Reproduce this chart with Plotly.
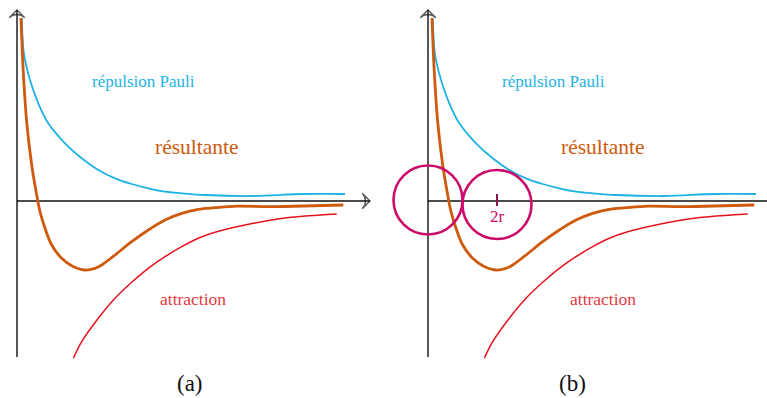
import plotly.graph_objects as go

# distance (unités arbitraires, origine = axe vertical) / énergie
pauli_x = [0.047, 0.063, 0.08, 0.13, 0.213, 0.313, 0.48, 0.647, 0.813, 0.98, 1.147, 1.313,
           1.48, 1.647, 1.88, 2.36, 2.86, 3.28]
pauli_y = [1.827, 1.527, 1.41, 1.21, 0.977, 0.777, 0.577, 0.427, 0.31, 0.227, 0.17, 0.127,
           0.093, 0.077, 0.06, 0.05, 0.07, 0.07]

res_x = [0.04, 0.063, 0.097, 0.147, 0.197, 0.23, 0.28, 0.347, 0.447, 0.547, 0.68, 0.78,
         0.847, 0.98, 1.147, 1.313, 1.48, 1.647, 1.813, 1.98, 2.2, 2.53, 2.863, 3.263]
res_y = [1.83, 1.29, 0.79, 0.36, 0.06, -0.107, -0.273, -0.44, -0.573, -0.647, -0.69, -0.673,
         -0.64, -0.54, -0.407, -0.29, -0.19, -0.123, -0.083, -0.067, -0.052, -0.057, -0.05, -0.04]

attr_x = [0.563, 0.647, 0.813, 0.98, 1.147, 1.313, 1.48, 1.647, 1.813, 1.98, 2.363, 2.697,
          3.03, 3.197]
attr_y = [-1.573, -1.407, -1.173, -0.973, -0.813, -0.673, -0.557, -0.457, -0.373, -0.313,
          -0.223, -0.167, -0.14, -0.13]

# atomes (panneau b) : centres et rayon, graduation 2r
atom_cx = [0.0, 0.69]
atom_cy = [0.01, -0.035]
atom_r = 0.345
tick_2r = 0.69

CYAN = "#1cb3e3"
ORANGE = "#cf5a0c"
RED = "#e8121e"
MAGENTA = "#cc0a6a"
INK = "#111111"
SERIF = "Liberation Serif, DejaVu Serif, serif"

fig = go.Figure()

for i, (xa, ya) in enumerate([("x", "y"), ("x2", "y2")]):
    # axes avec flèches
    xend = 3.53 if i == 0 else 3.45
    fig.add_trace(go.Scatter(
        x=[0, xend], y=[0, 0], xaxis=xa, yaxis=ya, mode="lines+markers",
        line=dict(color=INK, width=1.4),
        marker=dict(symbol="arrow-wide-open", size=[0, 11 if i == 0 else 0],
                    angleref="previous", color=INK, line=dict(color=INK, width=1.4)),
        hoverinfo="skip"))
    fig.add_trace(go.Scatter(
        x=[0, 0], y=[-1.56, 1.91], xaxis=xa, yaxis=ya, mode="lines+markers",
        line=dict(color=INK, width=1.4),
        marker=dict(symbol="arrow-wide-open", size=[0, 11], angleref="previous",
                    color=INK, line=dict(color=INK, width=1.4)),
        hoverinfo="skip"))
    fig.add_trace(go.Scatter(x=pauli_x, y=pauli_y, xaxis=xa, yaxis=ya, mode="lines",
                             line=dict(color=CYAN, width=1.8, shape="spline", smoothing=1),
                             name="répulsion Pauli"))
    fig.add_trace(go.Scatter(x=attr_x, y=attr_y, xaxis=xa, yaxis=ya, mode="lines",
                             line=dict(color=RED, width=1.5, shape="spline", smoothing=1),
                             name="attraction"))
    fig.add_trace(go.Scatter(x=res_x, y=res_y, xaxis=xa, yaxis=ya, mode="lines",
                             line=dict(color=ORANGE, width=2.8, shape="spline", smoothing=1),
                             name="résultante"))

    dx = 0.0 if i == 0 else -0.01
    fig.add_annotation(x=1.26 + dx, y=1.20, xref=xa, yref=ya, text="répulsion Pauli",
                       showarrow=False, font=dict(family=SERIF, size=17, color=CYAN))
    fig.add_annotation(x=1.80 + (0 if i == 0 else -0.05), y=0.54, xref=xa, yref=ya,
                       text="résultante", showarrow=False,
                       font=dict(family=SERIF, size=21.5, color=ORANGE))
    fig.add_annotation(x=1.76 + dx, y=-0.98, xref=xa, yref=ya, text="attraction",
                       showarrow=False, font=dict(family=SERIF, size=17.5, color="#e5383f"))

fig.add_annotation(x=1.73, y=-1.82, xref="x", yref="y", text="(a)", showarrow=False,
                   font=dict(family=SERIF, size=23, color=INK))
fig.add_annotation(x=1.44, y=-1.82, xref="x2", yref="y2", text="(b)", showarrow=False,
                   font=dict(family=SERIF, size=23, color=INK))

for cx, cy in zip(atom_cx, atom_cy):
    fig.add_shape(type="circle", xref="x2", yref="y2",
                  x0=cx - atom_r, x1=cx + atom_r, y0=cy - atom_r, y1=cy + atom_r,
                  line=dict(color=MAGENTA, width=2.6))
fig.add_shape(type="line", xref="x2", yref="y2", x0=tick_2r, x1=tick_2r, y0=-0.05, y1=0.07,
              line=dict(color="#8e1550", width=2))
fig.add_annotation(x=tick_2r, y=-0.15, xref="x2", yref="y2", text="2r", showarrow=False,
                   font=dict(family=SERIF, size=17, color=MAGENTA))

ax = dict(visible=False, fixedrange=True)
fig.update_layout(
    width=767, height=398, margin=dict(l=0, r=0, t=0, b=0),
    paper_bgcolor="white", plot_bgcolor="white", showlegend=False,
    xaxis=dict(domain=[0, 0.5], range=[-0.17, 3.665], **ax),
    xaxis2=dict(domain=[0.5, 1], range=[-0.445, 3.39], **ax),
    yaxis=dict(anchor="x", range=[-1.97, 2.01], **ax),
    yaxis2=dict(anchor="x2", range=[-1.97, 2.01], **ax),
    hovermode=False,
)

fig.write_html("out.html", config={"displayModeBar": False},
               post_script="document.body.style.margin='0px';")
